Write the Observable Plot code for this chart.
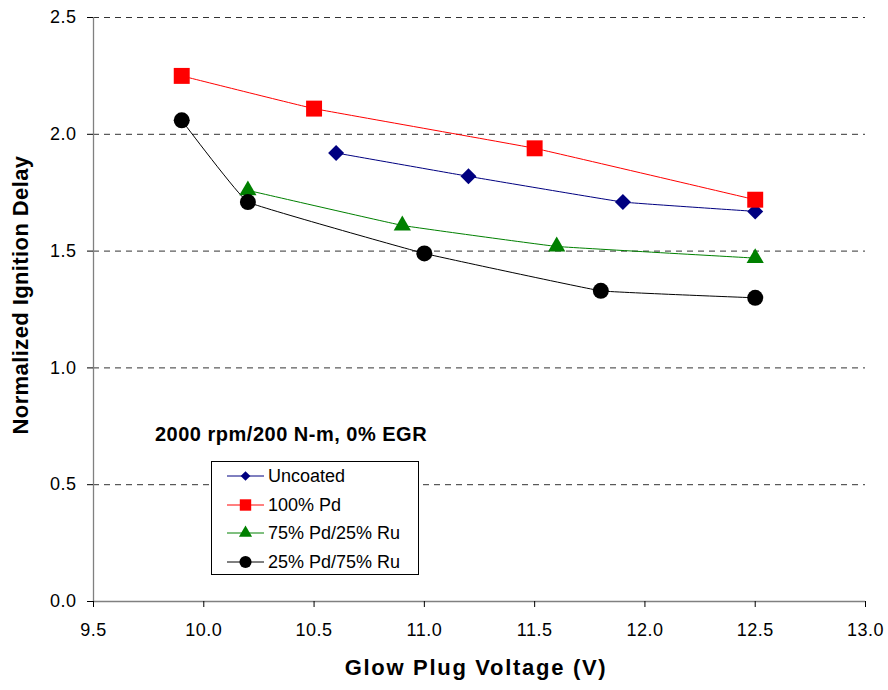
<!DOCTYPE html>
<html>
<head>
<meta charset="utf-8">
<script src="https://cdn.jsdelivr.net/npm/d3@7"></script>
<script src="https://cdn.jsdelivr.net/npm/@observablehq/plot@0.6"></script>
<style>
  body { margin: 0; background: #fff; }
  #chart { position: relative; width: 888px; height: 690px; font-family: "Liberation Sans", Arial, sans-serif; color: #000; }
  .title { position: absolute; font-weight: bold; font-size: 22px; white-space: nowrap; }
  #xtitle { left: 476px; top: 668px; letter-spacing: 1.7px; transform: translate(-50%, -50%); }
  #ytitle { left: 21px; top: 295px; letter-spacing: 0.4px; transform: translate(-50%, -50%) rotate(-90deg); }
  #note { position: absolute; left: 155px; top: 434px; transform: translateY(-50%); font-weight: bold; font-size: 20px; letter-spacing: 0.5px; white-space: nowrap; }
  #legend { position: absolute; left: 211px; top: 461px; width: 206px; height: 112px; border: 1px solid #000; background: #fff; }
  .entry { position: absolute; left: 0; height: 28px; display: flex; align-items: center; font-size: 18px; white-space: nowrap; transform: translateY(-50%); }
  .swatch { display: block; margin-left: 15px; margin-right: 4px; }
</style>
</head>
<body>
<div id="chart"></div>
<script>
// Glow plug voltage (V) and normalized ignition delay for each plug coating
const seriesNames = ["Uncoated", "100% Pd", "75% Pd/25% Ru", "25% Pd/75% Ru"];

const uncoatedVolts = [10.6, 11.2, 11.9, 12.5];
const uncoatedDelay = [1.92, 1.82, 1.71, 1.67];

const pd100Volts = [9.9, 10.5, 11.5, 12.5];
const pd100Delay = [2.25, 2.11, 1.94, 1.72];

const pd75Volts = [10.2, 10.9, 11.6, 12.5];
const pd75Delay = [1.76, 1.61, 1.52, 1.47];

const pd25Volts = [9.9, 10.2, 11.0, 11.8, 12.5];
const pd25Delay = [2.06, 1.71, 1.49, 1.33, 1.30];

const xDomain = [9.5, 13.0];
const yDomain = [0, 2.5];
const xTicks = [9.5, 10.0, 10.5, 11.0, 11.5, 12.0, 12.5, 13.0];
const yTicks = [0.0, 0.5, 1.0, 1.5, 2.0, 2.5];

const annotation = "2000 rpm/200 N-m, 0% EGR";
const xLabel = "Glow Plug Voltage (V)";
const yLabel = "Normalized Ignition Delay";

// Marker style per series
const styles = [
  {color: "#000080", symbol: "diamond2", r: 7.2, legendSize: 60},
  {color: "#ff0000", symbol: "square", r: 9.0, legendSize: 130},
  {color: "#008000", symbol: "triangle", r: 6.4, legendSize: 75},
  {color: "#000000", symbol: "circle", r: 8.0, legendSize: 115}
];

const rawSeries = [
  [uncoatedVolts, uncoatedDelay],
  [pd100Volts, pd100Delay],
  [pd75Volts, pd75Delay],
  [pd25Volts, pd25Delay]
];

const rows = rawSeries.flatMap(([volts, delay], i) =>
  volts.map((v, j) => ({series: seriesNames[i], volts: v, delay: delay[j]}))
);

const fmt = d => d.toFixed(1);

// Lightly smoothed connecting lines
const smooth = d3.curveCardinal.tension(0.8);

const plot = Plot.plot({
  width: 888,
  height: 690,
  marginLeft: 93,
  marginRight: 23,
  marginTop: 17,
  marginBottom: 89,
  style: {fontFamily: '"Liberation Sans", Arial, sans-serif', fontSize: "18px", color: "#000", background: "#fff", letterSpacing: "0.5px"},
  x: {domain: xDomain},
  y: {domain: yDomain},
  color: {domain: seriesNames, range: styles.map(s => s.color)},
  marks: [
    Plot.gridY(yTicks.filter(d => d > 0), {stroke: "#333", strokeOpacity: 1, strokeWidth: 1, strokeDasharray: "6,5"}),
    Plot.ruleX([xDomain[0]], {stroke: "#808080", strokeWidth: 1.3}),
    Plot.ruleY([yDomain[0]], {stroke: "#808080", strokeWidth: 1.3}),
    Plot.axisX({ticks: xTicks, tickFormat: fmt, tickSize: 6, tickPadding: 16, label: null}),
    Plot.axisY({ticks: yTicks, tickFormat: fmt, tickSize: 6, tickPadding: 11, label: null}),
    Plot.line(rows, {x: "volts", y: "delay", z: "series", stroke: "series", strokeWidth: 1, curve: smooth}),
    ...seriesNames.map((name, i) =>
      Plot.dot(rows.filter(d => d.series === name), {
        x: "volts", y: "delay", symbol: styles[i].symbol, r: styles[i].r,
        fill: styles[i].color, stroke: "none"
      })
    )
  ]
});

const chart = document.getElementById("chart");
plot.style.position = "absolute";
plot.style.left = "0";
plot.style.top = "0";
chart.appendChild(plot);

function addDiv(id, cls, text) {
  const el = document.createElement("div");
  if (id) el.id = id;
  if (cls) el.className = cls;
  if (text != null) el.textContent = text;
  chart.appendChild(el);
  return el;
}

addDiv("xtitle", "title", xLabel);
addDiv("ytitle", "title", yLabel);
addDiv("note", null, annotation);

// Legend box with line + marker swatches
const legend = addDiv("legend", null, null);
const symbolMap = {diamond2: d3.symbolDiamond2, square: d3.symbolSquare, triangle: d3.symbolTriangle, circle: d3.symbolCircle};
const entryTops = [14, 43.3, 71.3, 100];
seriesNames.forEach((name, i) => {
  const entry = document.createElement("div");
  entry.className = "entry";
  entry.style.top = entryTops[i] + "px";
  const svg = d3.create("svg").attr("class", "swatch").attr("width", 37).attr("height", 20);
  svg.append("line").attr("x1", 0).attr("x2", 37).attr("y1", 10).attr("y2", 10)
    .attr("stroke", styles[i].color).attr("stroke-width", 1);
  svg.append("path").attr("transform", "translate(18.5,10)")
    .attr("d", d3.symbol(symbolMap[styles[i].symbol], styles[i].legendSize)())
    .attr("fill", styles[i].color);
  entry.appendChild(svg.node());
  const label = document.createElement("span");
  label.textContent = name;
  entry.appendChild(label);
  legend.appendChild(entry);
});
</script>
</body>
</html>
